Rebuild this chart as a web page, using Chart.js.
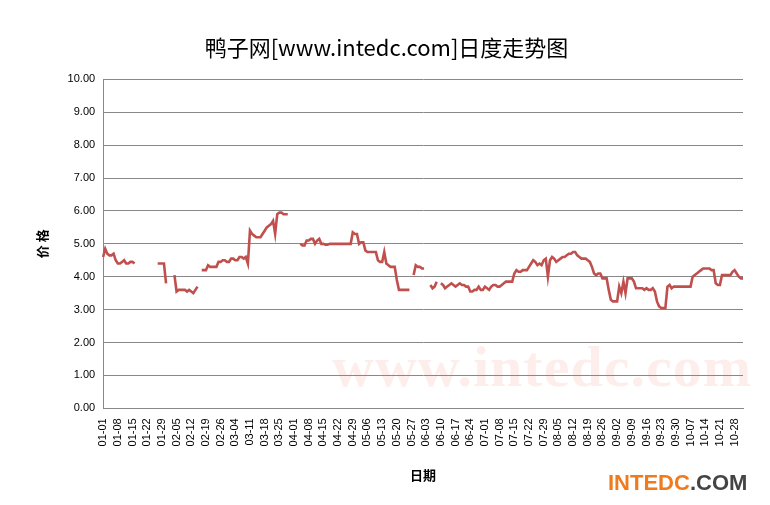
<!DOCTYPE html>
<html><head><meta charset="utf-8">
<script src="https://cdn.jsdelivr.net/npm/chart.js@4"></script>
<style>
body{margin:0;background:#fff;width:770px;height:505px;overflow:hidden;position:relative;font-family:"Noto Sans CJK SC",sans-serif}
#wrap{position:absolute;left:0;top:0;width:770px;height:505px}
#wm{position:absolute;left:332px;top:333px;font:bold 58px "Liberation Serif",serif;color:rgba(240,120,110,0.13);letter-spacing:1px}
#logo{position:absolute;left:608px;top:470px;font:bold 22px "Liberation Sans",Arial,sans-serif;color:#F07A1E}
#logo span{color:#444}
</style></head><body>
<div id="wm">www.intedc.com</div>
<div id="wrap"><canvas id="c" width="770" height="505"></canvas></div>
<div id="logo">INTEDC<span>.COM</span></div>
<script>
const tickLabels=["01-01","01-08","01-15","01-22","01-29","02-05","02-12","02-19","02-26","03-04","03-11","03-18","03-25","04-01","04-08","04-15","04-22","04-29","05-06","05-13","05-20","05-27","06-03","06-10","06-17","06-24","07-01","07-08","07-15","07-22","07-29","08-05","08-12","08-19","08-26","09-02","09-09","09-16","09-23","09-30","10-07","10-14","10-21","10-28"];
const prices=[
4.6,4.85,4.7,4.65,4.65,4.7,4.5,
4.4,4.4,4.45,4.5,4.4,4.4,4.45,
4.45,4.4,null,null,null,null,null,
null,null,null,null,null,4.4,4.4,
4.4,4.4,3.8,null,null,null,4.05,
3.55,3.6,3.6,3.6,3.6,3.55,3.6,
3.55,3.5,3.6,3.7,null,4.2,4.2,
4.2,4.35,4.3,4.3,4.3,4.3,4.45,
4.45,4.5,4.5,4.45,4.45,4.55,4.55,
4.5,4.5,4.6,4.6,4.55,4.6,4.4,
5.4,5.3,5.25,5.2,5.2,5.2,5.3,
5.4,5.5,5.55,5.6,5.7,5.3,5.9,
5.95,5.95,5.9,5.9,5.9,null,null,
null,null,null,5.0,4.95,4.95,5.1,
5.1,5.15,5.15,5.0,5.1,5.15,5.0,
5.0,4.97,4.97,5.0,5.0,5.0,5.0,
5.0,5.0,5.0,5.0,5.0,5.0,5.0,
5.35,5.3,5.3,5.0,5.05,5.05,4.8,
4.75,4.75,4.75,4.75,4.75,4.5,4.45,
4.45,4.75,4.4,4.35,4.3,4.3,4.3,
3.9,3.6,3.6,3.6,3.6,3.6,3.6,
null,4.05,4.35,4.3,4.3,4.25,4.25,
null,null,3.75,3.65,3.7,3.85,null,
3.8,3.75,3.65,3.7,3.75,3.8,3.75,
3.7,3.75,3.8,3.75,3.75,3.7,3.7,
3.55,3.55,3.6,3.6,3.7,3.6,3.6,
3.7,3.65,3.6,3.7,3.75,3.75,3.7,
3.7,3.75,3.8,3.85,3.85,3.85,3.85,
4.1,4.2,4.15,4.15,4.2,4.2,4.2,
4.3,4.4,4.5,4.45,4.35,4.4,4.35,
4.5,4.55,4.0,4.5,4.6,4.55,4.45,
4.5,4.55,4.6,4.6,4.65,4.7,4.7,
4.75,4.75,4.65,4.6,4.55,4.55,4.55,
4.5,4.45,4.3,4.1,4.05,4.1,4.1,
3.95,3.95,3.95,3.6,3.3,3.25,3.25,
3.25,3.7,3.5,3.85,3.5,3.95,3.95,
3.95,3.85,3.65,3.65,3.65,3.65,3.6,
3.65,3.6,3.6,3.65,3.55,3.25,3.1,
3.05,3.05,3.05,3.7,3.75,3.65,3.7,
3.7,3.7,3.7,3.7,3.7,3.7,3.7,
3.7,4.0,4.05,4.1,4.15,4.2,4.25,
4.25,4.25,4.25,4.2,4.2,3.8,3.75,
3.75,4.05,4.05,4.05,4.05,4.05,4.15,
4.2,4.1,4.0,3.95,3.95];
const labels=prices.map((_,i)=>i%7===0?(tickLabels[i/7]||''):'');
new Chart(document.getElementById('c'),{
type:'line',
data:{labels:labels,datasets:[{data:prices,borderColor:'#C0504D',borderWidth:2.6,pointRadius:0,spanGaps:false,tension:0}]},
options:{responsive:false,animation:false,
layout:{padding:{left:30,right:27,top:16,bottom:18}},
plugins:{legend:{display:false},tooltip:{enabled:false},
title:{display:true,text:'鸭子网[www.intedc.com]日度走势图',color:'#000',font:{size:22,family:'"Noto Sans CJK SC"',weight:'normal'},padding:{top:18,bottom:19}}},
scales:{
x:{grid:{display:false,drawTicks:true},border:{color:'#888'},
ticks:{autoSkip:false,maxRotation:90,minRotation:90,color:'#000',font:{size:11,family:'"Liberation Sans"'},padding:2},
title:{display:true,text:'日期',color:'#000',font:{size:13,weight:'bold',family:'"Noto Sans CJK SC"'},padding:{top:19}}},
y:{min:0,max:10,grid:{color:'#888',drawTicks:false},border:{color:'#888'},
ticks:{stepSize:1,callback:v=>v.toFixed(2),color:'#000',font:{size:11,family:'"Liberation Sans"'},padding:8},
title:{display:true,text:'价 格',color:'#000',font:{size:13,weight:'bold',family:'"Noto Sans CJK SC"'},padding:{bottom:10}}}
}}});
</script></body></html>
